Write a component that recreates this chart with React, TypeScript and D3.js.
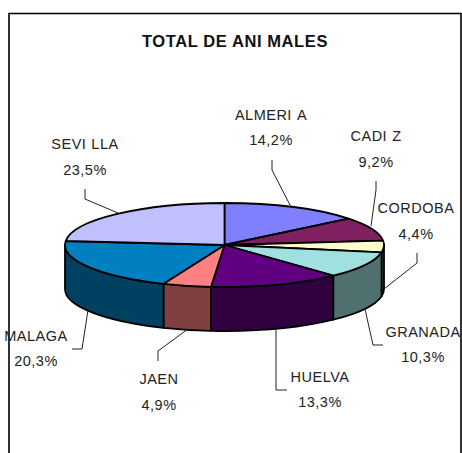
import React from "react";
import * as d3 from "d3";

const provinces = ["ALMERIA", "CADIZ", "CORDOBA", "GRANADA", "HUELVA", "JAEN", "MALAGA", "SEVILLA"];
const shares = [14.2, 9.2, 4.4, 10.3, 13.3, 4.9, 20.3, 23.5];
const shareLabels = ["14,2%", "9,2%", "4,4%", "10,3%", "13,3%", "4,9%", "20,3%", "23,5%"];
const topColors = ["#8080FF", "#802060", "#FFFFCC", "#A0E0E0", "#600080", "#FF8080", "#0080C0", "#C0C0FF"];
const sideColors = ["#404080", "#401030", "#808066", "#507070", "#300040", "#804040", "#004060", "#606080"];

// label centre x, first and second baselines
const labelX = [271, 376, 416, 423, 320, 159, 36, 85];
const labelY1 = [120, 141, 213, 337, 382, 384, 341, 149];
const labelY2 = [145, 167, 239, 362, 407, 410, 366, 175];
const leaders = [
  "M272,160V170L291,207",
  "M376,181V190L371,226",
  "M417,253V263L384,289",
  "M383,345H373L365,309",
  "M287,390H276V328",
  "M158,361V351L188,329",
  "M72,349H82L88,310",
  "M85,189V199L118,213",
];

const cx = 224.5, cy = 245, rx = 159.5, ry = 42, depth = 44;
const px = (a: number) => cx + rx * Math.sin(a);
const py = (a: number) => cy - ry * Math.cos(a);

const arcs = d3.pie<number>().sort(null).startAngle(0).endAngle(2 * Math.PI)(shares);

function topPath(a0: number, a1: number) {
  const large = a1 - a0 > Math.PI ? 1 : 0;
  return `M${cx},${cy}L${px(a0)},${py(a0)}A${rx},${ry} 0 ${large} 1 ${px(a1)},${py(a1)}Z`;
}
function sidePath(a0: number, a1: number) {
  const s = Math.max(a0, Math.PI / 2), e = Math.min(a1, (3 * Math.PI) / 2);
  if (e <= s) return null;
  return `M${px(s)},${py(s)}A${rx},${ry} 0 0 1 ${px(e)},${py(e)}L${px(e)},${py(e) + depth}A${rx},${ry} 0 0 0 ${px(s)},${py(s) + depth}Z`;
}

// The source renderer leaves a wide gap after each letter I
function spaced(word: string, gap: number) {
  const parts = word.split("I");
  return parts.map((part, i) => (
    <tspan key={i} dx={i > 0 ? gap : 0}>{i < parts.length - 1 ? part + "I" : part}</tspan>
  ));
}

const textStyle = { fontFamily: "'Liberation Sans', Arial, sans-serif", fontSize: 14.5, fill: "#222", letterSpacing: 0.5 };

export default function App() {
  return (
    <svg width={462} height={453} style={{ position: "absolute", left: 0, top: 0, background: "#fff" }}>
      <path d="M9,453V13.5H461V453" fill="none" stroke="#000" strokeWidth={1.6} />
      <text x={235} y={47} textAnchor="middle" style={{ ...textStyle, fontSize: 16.5, fontWeight: 700, fill: "#111", letterSpacing: 0.6 }}>
        {spaced("TOTAL DE ANIMALES", 5)}
      </text>
      {arcs.map((d, i) => {
        const p = sidePath(d.startAngle, d.endAngle);
        return p ? <path key={i} d={p} fill={sideColors[i]} stroke="#000" strokeWidth={1.8} strokeLinejoin="round" /> : null;
      })}
      {arcs.map((d, i) => (
        <path key={i} d={topPath(d.startAngle, d.endAngle)} fill={topColors[i]} stroke="#000" strokeWidth={1.8} strokeLinejoin="round" />
      ))}
      {leaders.map((d, i) => (
        <path key={i} d={d} fill="none" stroke="#222" strokeWidth={1} />
      ))}
      {provinces.map((name, i) => (
        <g key={name} textAnchor="middle" style={textStyle}>
          <text x={labelX[i]} y={labelY1[i]}>{spaced(name, 5)}</text>
          <text x={labelX[i]} y={labelY2[i]}>{shareLabels[i]}</text>
        </g>
      ))}
    </svg>
  );
}
